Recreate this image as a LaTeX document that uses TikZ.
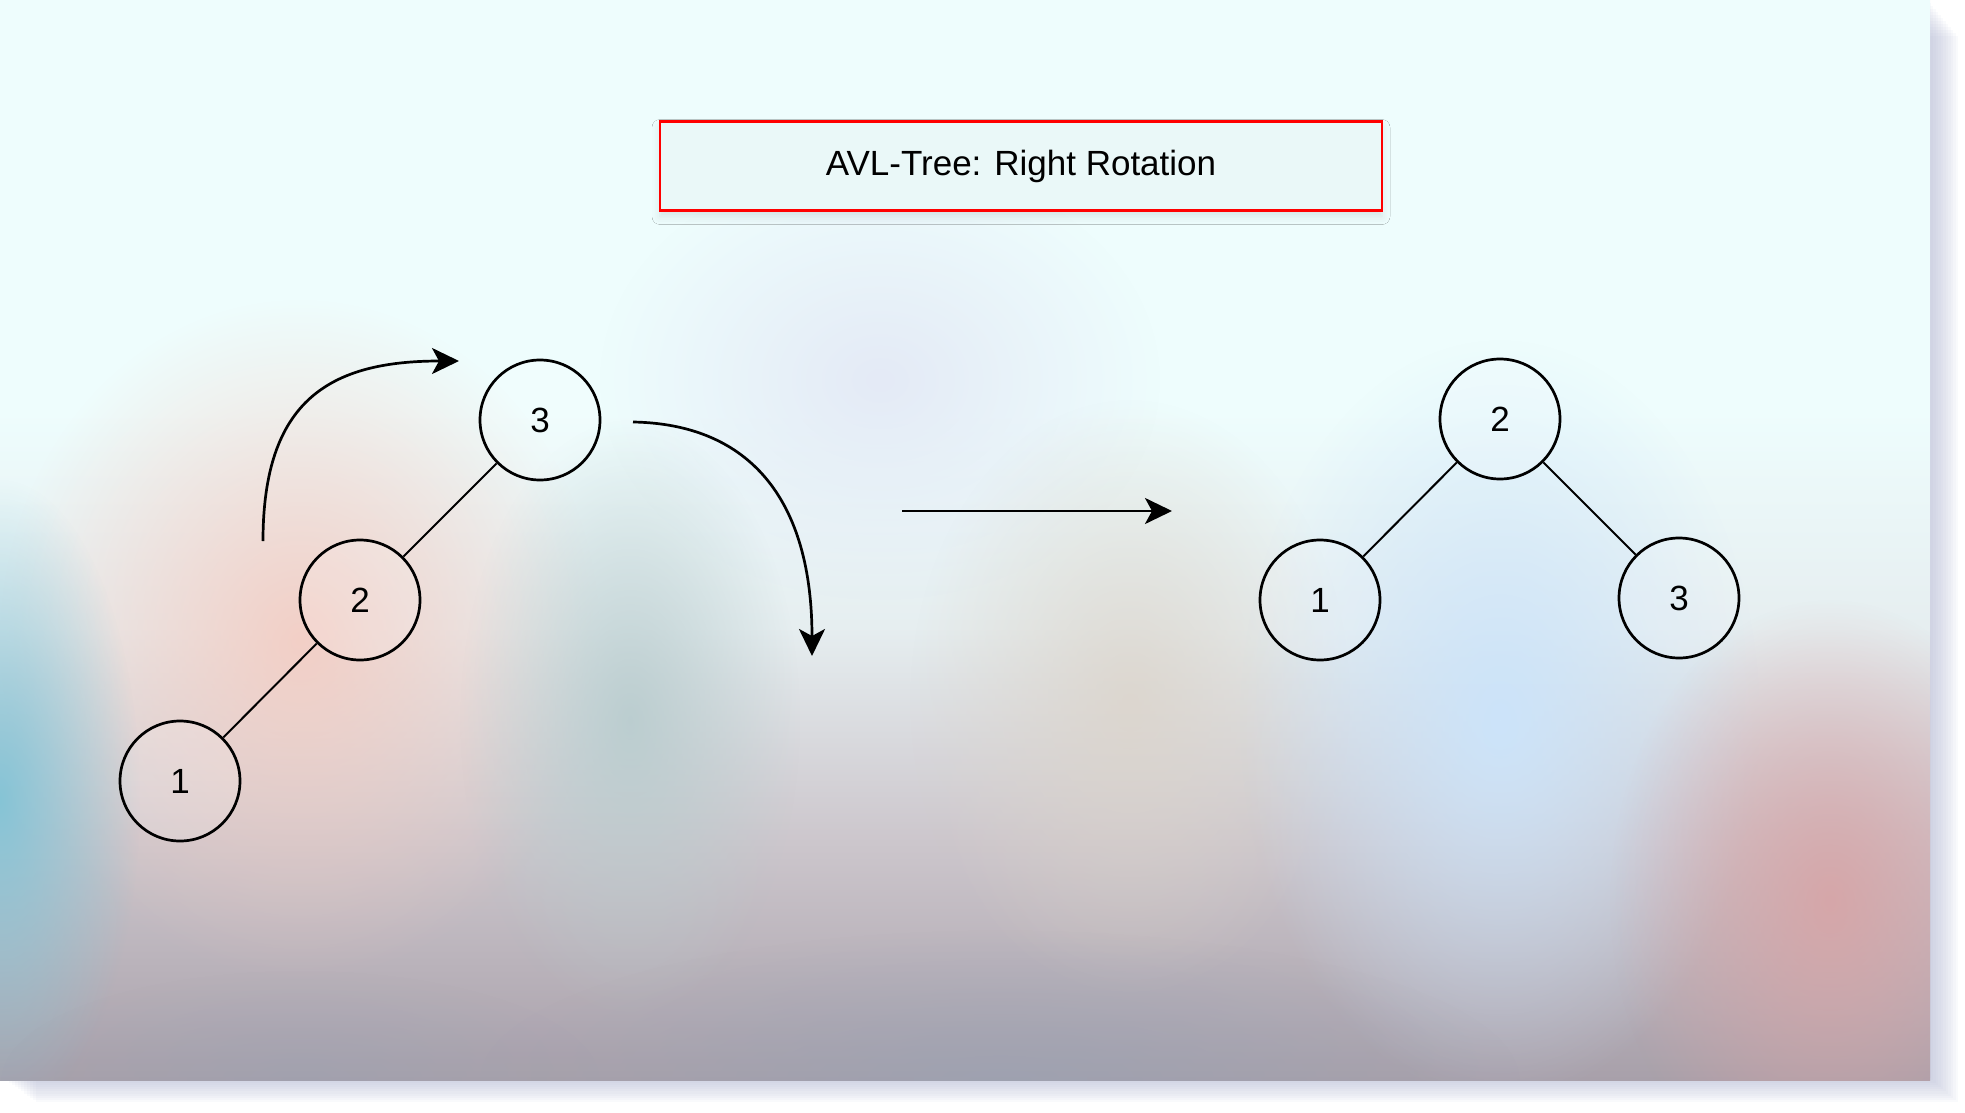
\documentclass[tikz,border=0pt]{standalone}
\usepackage{fontspec}
\setmainfont{Liberation Sans}
\usepackage{tikz}
\usetikzlibrary{arrows.meta}
\usetikzlibrary{positioning}
\usetikzlibrary{fadings}
\usetikzlibrary{shadows.blur}
\definecolor{bg-top}{HTML}{EEFDFD}
\definecolor{bg-upper}{HTML}{E6EEF0}
\definecolor{bg-mid}{HTML}{CCC6CC}
\definecolor{bg-low}{HTML}{A8A0AA}
\definecolor{blob-pink}{HTML}{F4CCC2}
\definecolor{blob-teal}{HTML}{86C4D6}
\definecolor{blob-sage}{HTML}{B8CCCE}
\definecolor{blob-sky}{HTML}{CCE4FA}
\definecolor{blob-rose}{HTML}{D8A4A6}
\definecolor{blob-sand}{HTML}{DCD4CA}
\definecolor{blob-slate}{HTML}{98A2B4}
\definecolor{blob-lilac}{HTML}{E4EAF6}
\definecolor{card-shadow}{HTML}{A8AECF}
\definecolor{title-fill}{HTML}{EAF8F8}
\tikzfading[name=blobfade, inner color=transparent!0, outer color=transparent!100]
\pgfdeclareverticalshading{cardshade}{100bp}{color(0bp)=(bg-low); color(25bp)=(bg-low); color(36bp)=(bg-mid); color(46bp)=(bg-upper); color(56bp)=(bg-top); color(100bp)=(bg-top)}

\begin{document}
\begin{tikzpicture}[
    x=0.5pt, y=-0.5pt,
    font=\fontsize{17.5}{21}\selectfont,
    >={Stealth[length=13.5pt, width=13pt, inset=3.5pt]}
  ]
  \tikzset{
    treenode/.style={circle, draw=black, line width=1.35pt, fill=white, fill opacity=0.15, text opacity=1, minimum size=60pt, inner sep=0pt},
    titlebox/.style={draw=red, line width=1.1pt, fill=title-fill, minimum width=361pt, minimum height=44.5pt, blur shadow={shadow xshift=0pt, shadow yshift=-3pt, shadow blur radius=4pt, shadow opacity=10}},
    edge/.style={draw=black, line width=1pt},
    arrow/.style={->, black, line width=1.35pt},
    blob/.style={path fading=blobfade}
  }

  \useasboundingbox (0,0) rectangle (1965,1113);
  \fill[white] (0,0) rectangle (1965,1113);

  \foreach \s in {1,...,12}
    \fill[card-shadow, opacity=0.06] (3*\s,3*\s) rectangle (1928+2.5*\s,1076+2.2*\s);
  \shade[shading=cardshade] (0,0) rectangle (1930,1080);

  \begin{scope}
    \clip (0,0) rectangle (1930,1080);
    \fill[blob-lilac, blob] (880,380) ellipse (280 and 220);
    \fill[blob-pink, blob, opacity=0.9] (300,640) ellipse (300 and 340);
    \fill[blob-teal, blob] (0,800) ellipse (140 and 320);
    \fill[blob-sage, blob, opacity=0.9] (630,720) ellipse (170 and 300);
    \fill[blob-sand, blob, opacity=0.8] (1130,700) ellipse (220 and 300);
    \fill[blob-sky, blob] (1500,720) ellipse (260 and 380);
    \fill[blob-rose, blob, opacity=0.9] (1830,900) ellipse (220 and 300);
    \fill[blob-slate, blob, opacity=0.6] (1000,1080) ellipse (520 and 150);
    \fill[blob-slate, blob, opacity=0.4] (300,1080) ellipse (300 and 110);
  \end{scope}

  \node (title) [titlebox] at (1021,166) {AVL-Tree: Right Rotation};

  \node (lthree) [treenode] at (540,420) {3};
  \node (ltwo) [treenode] at ([shift={(-180,180)}]lthree) {2};
  \node (lone) [treenode] at ([shift={(-180,181)}]ltwo) {1};

  \node (rtwo) [treenode] at (1500,419) {2};
  \node (rone) [treenode] at ([shift={(-180,181)}]rtwo) {1};
  \node (rthree) [treenode] at ([shift={(179,179)}]rtwo) {3};

  \draw[edge] (lthree) -- (ltwo);
  \draw[edge] (ltwo) -- (lone);
  \draw[edge] (rtwo) -- (rone);
  \draw[edge] (rtwo) -- (rthree);

  \coordinate (upstart) at (263,541);
  \coordinate (upend) at (459,361);
  \coordinate (downstart) at (633,422);
  \coordinate (downend) at (812,656);
  \coordinate (turnstart) at (902,511);
  \coordinate (turnend) at (1172,511);

  \draw[arrow] (upstart) .. controls (263,400) and (330,361) .. (upend);
  \draw[arrow] (downstart) .. controls (750,424) and (812,500) .. (downend);
  \draw[arrow] (turnstart) -- (turnend);
\end{tikzpicture}
\end{document}
